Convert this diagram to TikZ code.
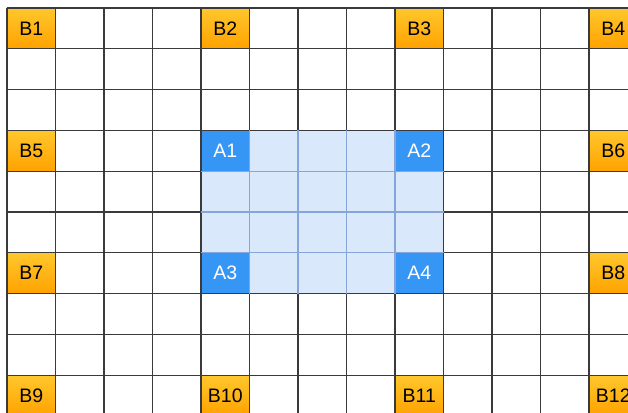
\documentclass[tikz,border=0pt]{standalone}
\usepackage{fontspec}
\setmainfont{Liberation Sans}
\definecolor{btop}{HTML}{FFC72C}
\definecolor{bbot}{HTML}{FFA200}
\definecolor{adark}{HTML}{3696F6}
\definecolor{alight}{HTML}{DAE8FC}
\definecolor{aline}{HTML}{87A5D8}
\definecolor{gridline}{HTML}{3A3A3A}
\tikzset{
  bcell/.style={minimum width=48.5pt, minimum height=40.8pt, inner sep=0pt,
    top color=btop, bottom color=bbot, font=\fontsize{19.5}{22}\selectfont},
  acell/.style={minimum width=48.5pt, minimum height=40.8pt, inner sep=0pt,
    fill=adark, text=white, font=\fontsize{19.5}{22}\selectfont}
}
\begin{document}
\begin{tikzpicture}[x=48.5pt, y=-40.8pt]
        \useasboundingbox (-0.1443,-0.196) rectangle (12.804,9.902);
        \clip (-0.1443,-0.196) rectangle (12.804,9.902);
        % Light blue block
        \fill[alight] (4,3) rectangle (9,7);
        % Corner cells A
        \foreach \c/\r/\t [count=\i] in {4/3/A1, 8/3/A2, 4/6/A3, 8/6/A4} {
            \node[acell] (a\i) at (\c+0.5,\r+0.5) {\t};
        }
        % Outer cells B
        \foreach \c/\r/\t [count=\i] in {0/0/B1, 4/0/B2, 8/0/B3, 12/0/B4,
            0/3/B5, 12/3/B6, 0/6/B7, 12/6/B8, 0/9/B9, 4/9/B10, 8/9/B11, 12/9/B12} {
            \node[bcell] (b\i) at (\c+0.5,\r+0.5) {\t};
        }
        % Grid
        \foreach \x in {0,...,13} {
            \draw[gridline, line width=1.2pt] (\x,0) -- (\x,10);
        }
        \foreach \y in {0,...,10} {
            \draw[gridline, line width=1.2pt] (0,\y) -- (13,\y);
        }
        % Inner lines of the blue block
        \foreach \x in {5,...,8} {
            \draw[aline, line width=1.2pt] (\x,3) -- (\x,7);
        }
        \foreach \y in {4,5,6} {
            \draw[aline, line width=1.2pt] (4,\y) -- (9,\y);
        }
\end{tikzpicture}
\end{document}
